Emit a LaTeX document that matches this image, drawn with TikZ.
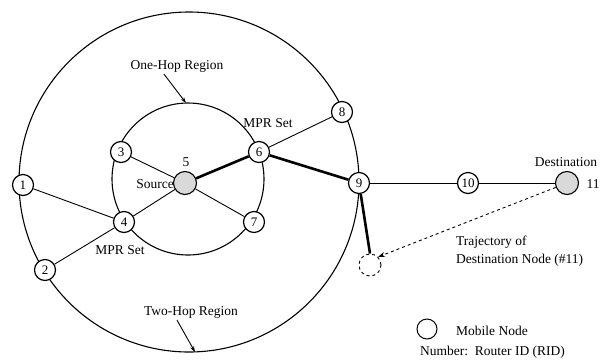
\documentclass[tikz,border=0pt]{standalone}
\usepackage{fontspec}
\setmainfont{Liberation Serif}
\usetikzlibrary{arrows.meta}
\begin{document}
\begin{tikzpicture}[x=1pt,y=-1pt,
  rnode/.style={circle,draw,line width=1.2pt,minimum size=21pt,inner sep=0pt,fill=white,font=\fontsize{13}{13}\selectfont},
  gnode/.style={circle,draw,line width=1.1pt,minimum size=23pt,inner sep=0pt,fill=black!15},
  lbl/.style={font=\fontsize{13.5}{18}\selectfont,inner sep=0pt},
  thin/.style={line width=0.9pt},
  thick/.style={line width=2.6pt},
  ring/.style={line width=1.1pt}]
\useasboundingbox (0,0) rectangle (608,360);
% regions
\draw[ring] (189,182) circle (170);
\draw[ring] (188,179) circle (76);
% nodes
\node[gnode] (n5) at (185,183) {};
\node[rnode] (n1) at (23,185) {1};
\node[rnode] (n2) at (45,270) {2};
\node[rnode] (n3) at (121,152) {3};
\node[rnode] (n4) at (124,222) {4};
\node[rnode] (n6) at (259,152) {6};
\node[rnode] (n7) at (254,222) {7};
\node[rnode] (n8) at (342,112) {8};
\node[rnode] (n9) at (359,183) {9};
\node[rnode] (n10) at (468,183) {10};
\node[gnode] (n11) at (567,183) {};
\node[circle,draw,dashed,line width=0.9pt,minimum size=22pt,inner sep=0pt] (nd) at (370,265) {};
% edges
\draw[thin] (n3) -- (n5);
\draw[thin] (n4) -- (n5);
\draw[thin] (n7) -- (n5);
\draw[thin] (n1) -- (n4);
\draw[thin] (n2) -- (n4);
\draw[thin] (n6) -- (n8);
\draw[thin] (n9) -- (n10);
\draw[thin] (n10) -- (n11);
\draw[thick] (n5) -- (n6);
\draw[thick] (n6) -- (n9);
\draw[thick] (n9) -- (nd.north);
\draw[thin,dashed,-{Stealth[length=7pt,width=5pt]}] (n11) -- (nd.north east);
% labels
\node[lbl] (l5) at (186,162) {5};
\node[lbl,anchor=east] (lsrc) at (174,184) {Source};
\node[lbl] (l11) at (593,184) {11};
\node[lbl] (ldest) at (566,162) {Destination};
\node[lbl] (lmpr1) at (268,123) {MPR Set};
\node[lbl] (lmpr2) at (120,250) {MPR Set};
\node[lbl] (lone) at (177,66) {One-Hop Region};
\node[lbl] (ltwo) at (191,312) {Two-Hop Region};
\coordinate (aone) at (186,103);
\coordinate (atwo) at (195,352);
\draw[thin,-{Stealth[length=6pt,width=4pt]}] (lone.south) ++(-13,2) -- (aone);
\draw[thin,-{Stealth[length=6pt,width=4pt]}] (ltwo.south) ++(-14,2) -- (atwo);
\node[lbl,anchor=west,align=left] (ltraj) at (456,251) {Trajectory of\\Destination Node (\#11)};
\node[circle,draw,line width=1pt,minimum size=20pt,inner sep=0pt] (leg) at (427,329) {};
\node[lbl,anchor=west] (lmob) at (456,331) {Mobile Node};
\node[lbl,anchor=west] (lnum) at (420,352) {Number:\ \ Router ID (RID)};
\end{tikzpicture}
\end{document}
